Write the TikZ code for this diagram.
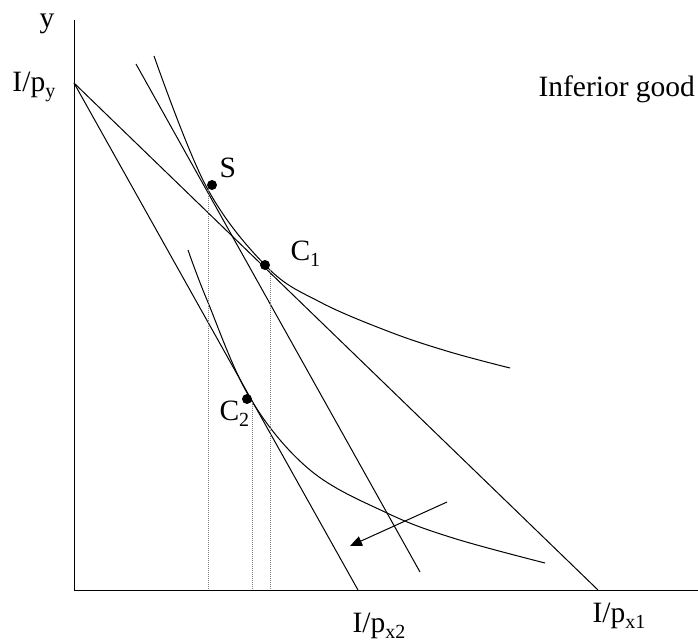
\documentclass[tikz,border=0pt]{standalone}
\usepackage{fontspec}
\setmainfont{Liberation Serif}
\usetikzlibrary{arrows.meta}

\newcommand{\lowsub}[1]{\raisebox{-6pt}{\fontsize{20}{20}\selectfont #1}}

\begin{document}
\begin{tikzpicture}[x=1pt, y=-1pt, >=Latex, line width=1pt,
    lbl/.style={font=\fontsize{29.5}{32}\selectfont, inner sep=0pt, anchor=base west},
    guide/.style={line width=0.8pt, gray, dash pattern=on 1pt off 1pt},
    dot/.style={circle, fill, inner sep=0pt, minimum size=10pt}]
    \useasboundingbox (0,0) rectangle (698,641);

    % axes
    \coordinate (O) at (74,590);
    \coordinate (ytop) at (74,20);
    \coordinate (xend) at (698,590);
    \draw (ytop) -- (O) -- (xend);

    % budget lines
    \coordinate (Ipy) at (74,83);
    \coordinate (Ipx1) at (598,590);
    \coordinate (Ipx2) at (358,590);
    \coordinate (comptop) at (136,64);
    \coordinate (compend) at (420,572);
    \draw (Ipy) -- (Ipx1);
    \draw (Ipy) -- (Ipx2);
    \draw (comptop) -- (compend);

    % indifference curves
    \coordinate (S) at (206,186);
    \coordinate (C1) at (267,267);
    \coordinate (C2) at (250,398);
    \draw plot[smooth, tension=0.6] coordinates
        {(154,56) (S) (C1) (320,302) (390,332) (450,352) (510,368)};
    \draw plot[smooth, tension=0.6] coordinates
        {(188,250) (207,300) (C2) (310,470) (387,513) (453,538) (545,563)};

    % guides down to the x axis
    \coordinate (Sx) at (208,590);
    \coordinate (C1x) at (270,590);
    \coordinate (C2x) at (252,590);
    \draw[guide] (208,190) -- (Sx);
    \draw[guide] (270,270) -- (C1x);
    \draw[guide] (252,402) -- (C2x);

    % points
    \node[dot] (dS) at (212,185) {};
    \node[dot] (dC1) at (265,265) {};
    \node[dot] (dC2) at (247,399) {};

    % shift arrow
    \coordinate (arrS) at (447,502);
    \coordinate (arrE) at (350,546);
    \draw[-{Triangle[length=12pt,width=10pt]}] (arrS) -- (arrE);

    % labels
    \node[lbl] (ylab) at (39,27) {y};
    \node[lbl] (pylab) at (12,91) {I/p\lowsub{y}};
    \node[lbl] (title) at (538,96) {Inferior good};
    \node[lbl] (slab) at (219,177) {S};
    \node[lbl] (c1lab) at (290,260) {C\lowsub{1}};
    \node[lbl] (c2lab) at (219,420) {C\lowsub{2}};
    \node[lbl] (px2lab) at (352,632) {I/p\lowsub{x2}};
    \node[lbl] (px1lab) at (592,622) {I/p\lowsub{x1}};
\end{tikzpicture}
\end{document}
